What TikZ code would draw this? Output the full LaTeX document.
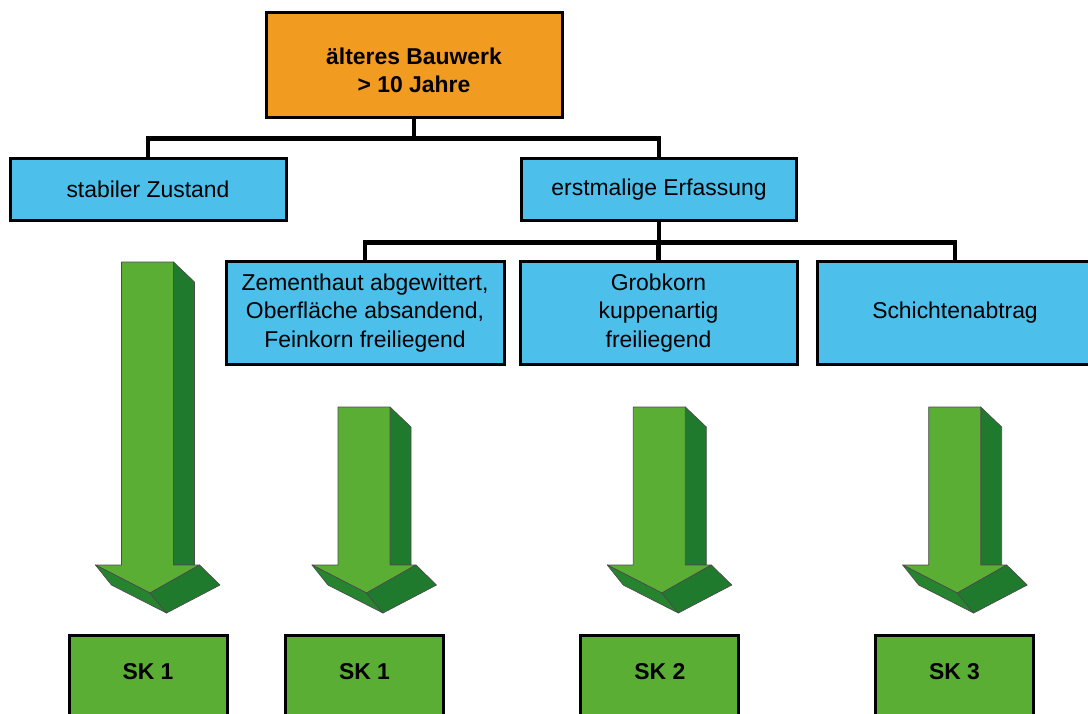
\documentclass[tikz,border=0pt]{standalone}
\usepackage{fontspec}
\setmainfont{Liberation Sans}
\usetikzlibrary{calc}

\definecolor{boxorange}{RGB}{242,155,33}
\definecolor{boxblue}{RGB}{76,191,234}
\definecolor{boxgreen}{RGB}{91,174,52}
\definecolor{arrowlight}{RGB}{91,174,52}
\definecolor{arrowdark}{RGB}{31,122,46}
\definecolor{arrowbevel}{RGB}{38,132,46}

\tikzset{
  box/.style={draw=black, line width=3pt, align=center, inner sep=0pt,
    font=\fontsize{22.9}{28.5}\selectfont},
  topbox/.style={box, fill=boxorange, minimum width=296pt, minimum height=105pt},
  toplabel/.style={align=center, inner sep=0pt, font=\fontsize{22.9}{28.5}\selectfont\bfseries},
  levelone/.style={box, fill=boxblue, minimum height=62pt},
  leveltwo/.style={box, fill=boxblue, minimum height=103pt},
  skbox/.style={box, fill=boxgreen, minimum width=158pt, minimum height=120pt, anchor=north},
  sklabel/.style={font=\fontsize{22.9}{28.5}\selectfont\bfseries, inner sep=0pt},
  link/.style={draw=black, line width=4.5pt},
  arrowedge/.style={draw=black!70, line width=0.7pt, line join=round}
}

% 3D block arrow: #1 = centre of the shaft, #2 = top of the shaft
\newcommand{\grarrow}[2]{%
  \draw[arrowedge, fill=arrowdark] ({#1+26},#2) -- ({#1+47},{#2+20}) -- ({#1+47},565) -- ({#1+26},565) -- cycle;
  \draw[arrowedge, fill=arrowlight] ({#1-26},#2) -- ({#1+26},#2) -- ({#1+26},565) -- ({#1+52},565)
      -- ({#1+2.5},593) -- ({#1-52},565) -- ({#1-26},565) -- cycle;
  \draw[arrowedge, fill=arrowbevel] ({#1-52},565) -- ({#1-36},585) -- ({#1+19},613) -- ({#1+2.5},593) -- cycle;
  \draw[arrowedge, fill=arrowdark] ({#1+2.5},593) -- ({#1+19},613) -- ({#1+72.5},585) -- ({#1+52},565) -- cycle;
}

\begin{document}
\begin{tikzpicture}[x=1pt, y=-1pt]
  \useasboundingbox (0,0) rectangle (1088,713);
  \clip (0,0) rectangle (1088,713);

  % hierarchy of boxes
  \node[topbox] (top) at (414,64.5) {};
  \node[toplabel] (toptxt) at ($(top.center)+(0,6)$) {älteres Bauwerk\\> 10 Jahre};
  \node[levelone, minimum width=276pt] (stab) at (148,189) {stabiler Zustand};
  \node[levelone, minimum width=275pt] (erf) at (659,189.5) {erstmalige Erfassung};
  \node[leveltwo, minimum width=278pt] (zem) at (365,313) {Zementhaut abgewittert,\\Oberfläche absandend,\\Feinkorn freiliegend};
  \node[leveltwo, minimum width=277pt] (grob) at (658.5,313) {Grobkorn\\kuppenartig\\freiliegend};
  \node[leveltwo, minimum width=276pt] (schicht) at (955,313) {Schichtenabtrag};

  % tree connectors
  \draw[link] (top.south) -- ++(0,20) -| (stab.north);
  \draw[link] (top.south) -- ++(0,20) -| (erf.north);
  \draw[link] (erf.south) -- ++(0,20.5) -| (zem.north);
  \draw[link] (erf.south) -- ++(0,20.5) -| (grob.north);
  \draw[link] (erf.south) -- ++(0,20.5) -| (schicht.north);

  % block arrows down to the classes
  \grarrow{147.5}{262}
  \grarrow{364}{407}
  \grarrow{659.3}{407}
  \grarrow{954.7}{407}

  % resulting classes
  \node[skbox] (sk1a) at (148,634) {};
  \node[skbox] (sk1b) at (364.5,634) {};
  \node[skbox] (sk2) at (659.8,634) {};
  \node[skbox] (sk3) at (954.5,634) {};
  \node[sklabel] (sk1atxt) at ($(sk1a.north)+(0,38)$) {SK 1};
  \node[sklabel] (sk1btxt) at ($(sk1b.north)+(0,38)$) {SK 1};
  \node[sklabel] (sk2txt) at ($(sk2.north)+(0,38)$) {SK 2};
  \node[sklabel] (sk3txt) at ($(sk3.north)+(0,38)$) {SK 3};
\end{tikzpicture}
\end{document}
